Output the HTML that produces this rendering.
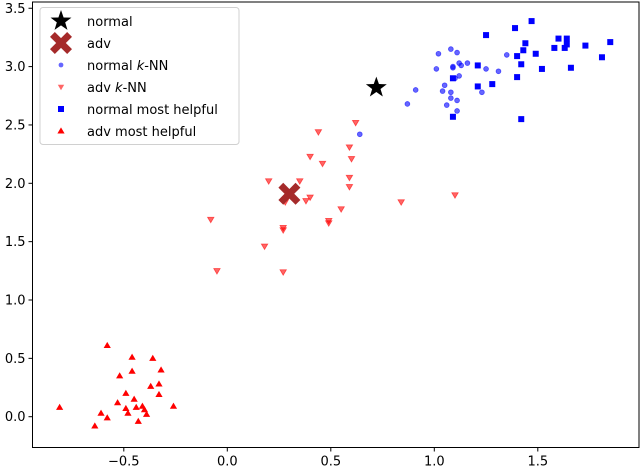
<!DOCTYPE html>
<html><head><meta charset="utf-8"><style>
body{margin:0;background:#fff}
svg{display:block;font-family:"DejaVu Sans","Liberation Sans",sans-serif}
</style></head><body>
<svg id="chart" width="640" height="469">
<g id="marks"></g>
<g id="axes"></g>
<g id="legend"></g>
</svg>
<script>
const normalPoint=[[0.72,2.82]];
const advPoint=[[0.30,1.91]];
const normalKnnX=[1.02,1.08,1.11,1.35,1.01,1.09,1.09,1.12,1.13,1.16,1.25,1.31,1.10,1.12,1.05,1.04,1.08,0.91,1.23,1.08,1.11,0.87,1.06,1.11,0.64];
const normalKnnY=[3.11,3.15,3.12,3.10,2.98,2.99,3.00,3.03,3.01,3.03,2.98,2.96,2.90,2.92,2.84,2.79,2.78,2.80,2.78,2.73,2.71,2.68,2.67,2.62,2.42];
const advKnnX=[0.62,0.44,0.59,0.60,0.40,0.46,0.20,0.35,0.59,0.59,0.40,0.38,0.28,0.55,0.84,1.10,-0.08,0.49,0.49,0.27,0.27,0.18,-0.05,0.27];
const advKnnY=[2.52,2.44,2.31,2.21,2.23,2.17,2.02,2.02,2.05,1.97,1.88,1.85,1.84,1.78,1.84,1.90,1.69,1.68,1.66,1.62,1.60,1.46,1.25,1.24];
const normalHelpX=[1.25,1.39,1.47,1.44,1.43,1.49,1.58,1.60,1.64,1.64,1.63,1.73,1.85,1.81,1.66,1.52,1.42,1.40,1.21,1.09,1.40,1.21,1.28,1.09,1.42];
const normalHelpY=[3.27,3.33,3.39,3.20,3.14,3.11,3.16,3.24,3.24,3.19,3.16,3.18,3.21,3.08,2.99,2.98,3.02,3.09,3.01,2.90,2.91,2.83,2.85,2.57,2.55];
const advHelpX=[-0.58,-0.46,-0.36,-0.32,-0.46,-0.52,-0.33,-0.37,-0.33,-0.49,-0.45,-0.26,-0.81,-0.53,-0.49,-0.44,-0.41,-0.40,-0.39,-0.48,-0.61,-0.58,-0.43,-0.64];
const advHelpY=[0.61,0.51,0.50,0.40,0.39,0.35,0.28,0.26,0.19,0.20,0.15,0.09,0.08,0.12,0.07,0.08,0.09,0.06,0.02,0.03,0.03,-0.01,-0.04,-0.08];
const xTicks=[-0.5,0.0,0.5,1.0,1.5];
const xTickLabels=["−0.5","0.0","0.5","1.0","1.5"];
const yTicks=[0.0,0.5,1.0,1.5,2.0,2.5,3.0,3.5];
const yTickLabels=["0.0","0.5","1.0","1.5","2.0","2.5","3.0","3.5"];

const NS="http://www.w3.org/2000/svg";
const L=32.5,R=639,T=2,B=447.5;
function sx(v){return 227.3+207*v;}
function sy(v){return 416.7-116.7*v;}
function mk(tag,attrs,parent){const e=document.createElementNS(NS,tag);for(const k in attrs)e.setAttribute(k,attrs[k]);parent.appendChild(e);return e;}
const marks=document.getElementById('marks'),axes=document.getElementById('axes'),legend=document.getElementById('legend');

function starPath(cx,cy,r){let d='';for(let i=0;i<10;i++){const a=-Math.PI/2+i*Math.PI/5;const rr=i%2?r*0.4:r;d+=(i?'L':'M')+(cx+rr*Math.cos(a)).toFixed(2)+' '+(cy+rr*Math.sin(a)).toFixed(2);}return d+'Z';}
function xPath(cx,cy,s){const a=s*0.5,b=s*0.22;const pts=[[-a,-a+b],[-a+b,-a],[0,-b],[a-b,-a],[a,-a+b],[b,0],[a,a-b],[a-b,a],[0,b],[-a+b,a],[-a,a-b],[-b,0]];return 'M'+pts.map(p=>(cx+p[0]).toFixed(2)+' '+(cy+p[1]).toFixed(2)).join('L')+'Z';}
function triDown(cx,cy,s){return `M${cx-s} ${cy-s*0.7}L${cx+s} ${cy-s*0.7}L${cx} ${cy+s}Z`;}
function triUp(cx,cy,s){return `M${cx-s} ${cy+s*0.7}L${cx+s} ${cy+s*0.7}L${cx} ${cy-s}Z`;}

for(let i=0;i<advHelpX.length;i++){
  const e=mk('path',{d:triUp(sx(advHelpX[i]),sy(advHelpY[i]),3.6),fill:'#ff0000'},marks);
  
  
}
for(let i=0;i<normalHelpX.length;i++){
  const e=mk('rect',{x:sx(normalHelpX[i])-3,y:sy(normalHelpY[i])-3,width:6,height:6,fill:'#0000ff'},marks);
  
  
}
for(let i=0;i<advKnnX.length;i++){
  const e=mk('path',{d:triDown(sx(advKnnX[i]),sy(advKnnY[i]),3.2),fill:'#ff0000','fill-opacity':0.6,stroke:'#ff0000','stroke-opacity':0.6,'stroke-width':0.8},marks);
  
  
}
for(let i=0;i<normalKnnX.length;i++){
  const e=mk('circle',{cx:sx(normalKnnX[i]),cy:sy(normalKnnY[i]),r:2.4,fill:'#0000ff','fill-opacity':0.6,stroke:'#0000ff','stroke-opacity':0.6,'stroke-width':0.8},marks);
  
  
}
{
  const e=mk('path',{d:starPath(sx(normalPoint[0][0]),sy(normalPoint[0][1]),11),fill:'#000'},marks);
  
  
  const f=mk('path',{d:xPath(sx(advPoint[0][0]),sy(advPoint[0][1]),22),fill:'#a52a2a'},marks);
  
  
}

{
  const fr=mk('rect',{x:L,y:T,width:R-L,height:B-T,fill:'none',stroke:'#000','stroke-width':1},axes);
  
  
}
xTicks.forEach((v,i)=>{
  const x=sx(v);
  const t=mk('line',{x1:x,x2:x,y1:B,y2:B+4,stroke:'#000','stroke-width':1},axes);
  
  
  const l=mk('text',{x:x,y:B+18,'font-size':13,'text-anchor':'middle',fill:'#000'},axes);
  l.textContent=xTickLabels[i];
  
  
});
yTicks.forEach((v,i)=>{
  const y=sy(v);
  const t=mk('line',{x1:L-4,x2:L,y1:y,y2:y,stroke:'#000','stroke-width':1},axes);
  
  
  const l=mk('text',{x:L-7,y:y+4.5,'font-size':13,'text-anchor':'end',fill:'#000'},axes);
  l.textContent=yTickLabels[i];
  
  
});

{
  const b=mk('rect',{x:40,y:7.5,width:199,height:137,rx:3,fill:'#fff','fill-opacity':0.8,stroke:'#d0d0d0','stroke-width':1},legend);
  
  
  const rows=[['normal','star'],['adv','x'],['normal k-NN','circ'],['adv k-NN','tdown'],['normal most helpful','sq'],['adv most helpful','tup']];
  rows.forEach((r,i)=>{
    const cy=21+i*22,cx=61;
    let m;
    if(r[1]==='star')m=mk('path',{d:starPath(cx,cy,11),fill:'#000'},legend);
    else if(r[1]==='x')m=mk('path',{d:xPath(cx,cy,22),fill:'#a52a2a'},legend);
    else if(r[1]==='circ')m=mk('circle',{cx:cx,cy:cy,r:2.4,fill:'#0000ff','fill-opacity':0.6},legend);
    else if(r[1]==='tdown')m=mk('path',{d:triDown(cx,cy,3.2),fill:'#ff0000','fill-opacity':0.6},legend);
    else if(r[1]==='sq')m=mk('rect',{x:cx-3,y:cy-3,width:6,height:6,fill:'#0000ff'},legend);
    else m=mk('path',{d:triUp(cx,cy,3.6),fill:'#ff0000'},legend);
    
    
    const t=mk('text',{x:87,y:cy+5,'font-size':13,fill:'#000'},legend);
    if(r[0].includes('k-NN')){
      const pre=r[0].replace('k-NN','');
      t.appendChild(document.createTextNode(pre));
      const it=mk('tspan',{'font-style':'italic'},t);it.textContent='k';
      t.appendChild(document.createTextNode('-NN'));
    } else t.textContent=r[0];
    
    
  });
}
</script>
</body></html>
